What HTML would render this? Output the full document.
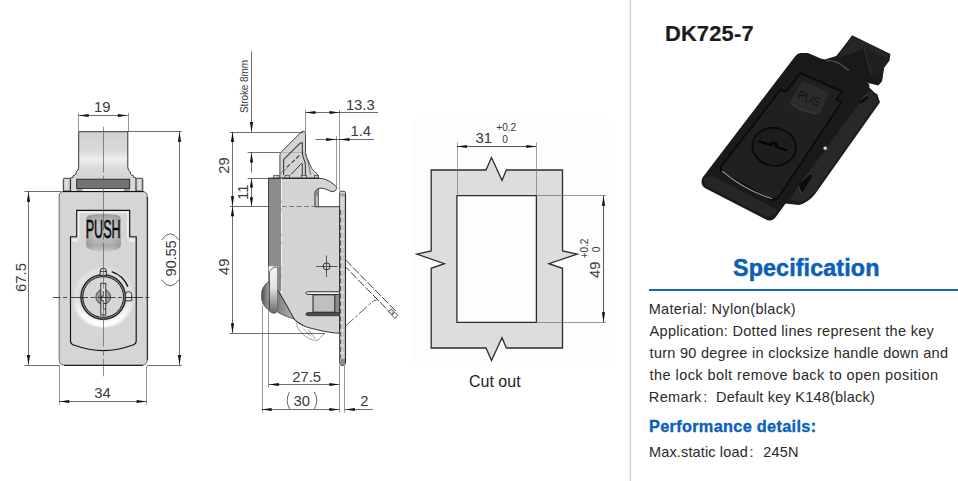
<!DOCTYPE html>
<html><head><meta charset="utf-8"><title>DK725-7</title>
<style>
html,body{margin:0;padding:0;background:#fff;}
body{width:958px;height:481px;position:relative;overflow:hidden;font-family:"Liberation Sans",sans-serif;}
svg{position:absolute;left:0;top:0;}
svg text{font-family:"Liberation Sans",sans-serif;}
.t{position:absolute;white-space:pre;line-height:1;}
.rule{position:absolute;left:648.5px;top:289.2px;width:310px;height:2px;background:#1567ba;}
</style></head><body>
<svg width="958" height="481" viewBox="0 0 958 481">
<defs>
<linearGradient id="gTab" x1="0" y1="0" x2="0" y2="1">
 <stop offset="0" stop-color="#d1d1d1"/><stop offset="0.3" stop-color="#d8d8d8"/><stop offset="0.47" stop-color="#eeeeee"/><stop offset="0.62" stop-color="#dadada"/><stop offset="1" stop-color="#cecece"/>
</linearGradient>
<linearGradient id="gPush" x1="0" y1="0" x2="0" y2="1">
 <stop offset="0" stop-color="#9c9c9c"/><stop offset="0.12" stop-color="#b0b0b0"/><stop offset="0.3" stop-color="#c3c3c3"/><stop offset="0.6" stop-color="#c2c2c2"/><stop offset="0.85" stop-color="#ababab"/><stop offset="1" stop-color="#c8c8c8"/>
</linearGradient>
<radialGradient id="gBezel" cx="0.5" cy="0.5" r="0.5">
 <stop offset="0.7" stop-color="#d6d6d6"/><stop offset="0.88" stop-color="#e3e3e3"/><stop offset="1" stop-color="#d8d8d8"/>
</radialGradient>
<linearGradient id="gPin" x1="0" y1="0" x2="1" y2="0">
 <stop offset="0" stop-color="#bdbdbd"/><stop offset="0.5" stop-color="#e4e4e4"/><stop offset="1" stop-color="#a9a9a9"/>
</linearGradient>
<linearGradient id="gFlange" x1="0" y1="0" x2="0" y2="1">
 <stop offset="0" stop-color="#f3f3f3"/><stop offset="0.45" stop-color="#e2e2e2"/><stop offset="0.72" stop-color="#a8a8a8"/><stop offset="1" stop-color="#666666"/>
</linearGradient>
<linearGradient id="gDome" x1="0" y1="0" x2="1" y2="0">
 <stop offset="0" stop-color="#505050"/><stop offset="1" stop-color="#a4a4a4"/>
</linearGradient>
<linearGradient id="gCone" x1="0" y1="0" x2="1" y2="0"><stop offset="0" stop-color="#7e7e7e"/><stop offset="1" stop-color="#b4b4b4"/></linearGradient>
<linearGradient id="gPushH" x1="0" y1="0" x2="1" y2="0"><stop offset="0" stop-color="#000" stop-opacity="0.12"/><stop offset="0.25" stop-color="#000" stop-opacity="0"/><stop offset="0.75" stop-color="#000" stop-opacity="0"/><stop offset="1" stop-color="#000" stop-opacity="0.12"/></linearGradient>
<linearGradient id="gPlate" x1="0" y1="0" x2="1" y2="0">
 <stop offset="0" stop-color="#8a8a8a"/><stop offset="0.5" stop-color="#b5b5b5"/><stop offset="1" stop-color="#6a6a6a"/>
</linearGradient>
<linearGradient id="gCres" gradientUnits="userSpaceOnUse" x1="0" y1="300" x2="0" y2="326"><stop offset="0" stop-color="#ffffff" stop-opacity="0"/><stop offset="0.55" stop-color="#ffffff" stop-opacity="0.75"/><stop offset="1" stop-color="#ffffff" stop-opacity="1"/></linearGradient>
<filter id="blur1" x="-20%" y="-20%" width="140%" height="140%"><feGaussianBlur stdDeviation="1.2"/></filter>
</defs>
<path d="M78.7,131.7 H127.8 V167.5 Q128,170.5 130.2,171.6 L130.6,174 Q131.6,175.6 133.4,175.6 L133.8,177.4 L135.8,177.8 V191 H70.8 V177.8 L72.8,177.4 L73.2,175.6 Q75,175.6 76,174 L76.4,171.6 Q78.5,170.5 78.7,167.5 Z" fill="url(#gTab)" stroke="#222" stroke-width="0.9"/>
<rect x="63.3" y="178.3" width="7.2" height="12.8" rx="1.2" fill="url(#gPin)" stroke="#222" stroke-width="0.9"/>
<rect x="136" y="178.3" width="6.8" height="12.8" rx="1.2" fill="url(#gPin)" stroke="#222" stroke-width="0.9"/>
<rect x="71.3" y="178.2" width="5.2" height="13" fill="#dadada"/>
<rect x="130" y="178.2" width="5.3" height="13" fill="#dadada"/>
<rect x="76.7" y="179.2" width="53" height="9.3" fill="#747474" stroke="#222" stroke-width="0.9"/>
<rect x="82" y="188.9" width="42" height="2.2" fill="#f0f0f0"/>
<rect x="76.9" y="188.9" width="5.5" height="2.2" fill="#9a9a9a"/>
<rect x="124" y="188.9" width="5.5" height="2.2" fill="#9a9a9a"/>
<path d="M63.5,191.7 H143 Q147.2,191.7 147.2,196 V360 Q147.2,365 142,365 H64.5 Q59.2,365 59.2,360 V196 Q59.2,191.7 63.5,191.7 Z" fill="#d5d5d5" stroke="#5a5a5a" stroke-width="0.9"/>
<line x1="62.5" y1="191.5" x2="144.0" y2="191.5" stroke="#111" stroke-width="1.1" />
<line x1="147.5" y1="197.0" x2="147.5" y2="360.0" stroke="#333" stroke-width="1.2" />
<line x1="64.0" y1="365.5" x2="143.0" y2="365.5" stroke="#222" stroke-width="1.0" />
<path d="M76.7,236.7 V210.3 H129.7 V236.7 H136.2 V340.5 Q136.2,344.5 132,345.3 Q103.3,356 74.5,345.3 Q70.5,344.5 70.5,340.5 V236.7 Z" fill="#d5d5d5" stroke="#111" stroke-width="1.15" stroke-linejoin="miter"/>
<path d="M78.6,238.5 V212.2 H127.8 V238.5" fill="none" stroke="#f0f0f0" stroke-width="1.6"/>
<path d="M72,240.2 H77.6 M128.8,240.2 H134.8" stroke="#f0f0f0" stroke-width="2.6" fill="none"/>
<path d="M86,220.5 Q86,215.4 91,215 Q103.5,213.2 116,215 Q121,215.4 121,220.5 V244 Q121,249 115,250.2 Q103.5,252.6 92,250.2 Q86,249 86,244 Z" fill="url(#gPush)"/>
<path d="M86,220.5 Q86,215.4 91,215 Q103.5,213.2 116,215 Q121,215.4 121,220.5 V244 Q121,249 115,250.2 Q103.5,252.6 92,250.2 Q86,249 86,244 Z" fill="url(#gPushH)"/>
<text x="103.2" y="237.6" font-size="25" font-weight="normal" text-anchor="middle" fill="#0a0a0a" stroke="#0a0a0a" stroke-width="0.5" textLength="35" lengthAdjust="spacingAndGlyphs">PUSH</text>
<circle cx="103.2" cy="297" r="30.6" fill="url(#gBezel)"/>
<path d="M73.46,302.24 A30.2,30.2 0 0 0 132.94,302.24 L126.34,301.08 A23.5,23.5 0 0 1 80.06,301.08 Z" fill="url(#gCres)" filter="url(#blur1)"/>
<circle cx="103.2" cy="297" r="22.3" fill="#9a9a9a" stroke="#1a1a1a" stroke-width="1.25"/>
<circle cx="103.2" cy="297" r="20.4" fill="#d6d6d6" stroke="#1a1a1a" stroke-width="1.0"/>
<circle cx="103.2" cy="297" r="7.4" fill="#9c9c9c" stroke="#333" stroke-width="0.8"/>
<rect x="100.8" y="283.3" width="5" height="31.7" fill="#dedede" stroke="#222" stroke-width="0.9"/>
<path d="M103.3,291 V296 H101.6 V300.5 H103.3 V303.5 H105.8 M103.3,303.5 V309 H105.8" fill="none" stroke="#222" stroke-width="0.8"/>
<path d="M100.2,275.4 V271 Q100.2,268.2 103.3,268.2 Q106.4,268.2 106.4,271 V275.4 Z" fill="#d8d8d8" stroke="#222" stroke-width="0.9"/>
<line x1="100.2" y1="271.5" x2="106.4" y2="271.5" stroke="#222" stroke-width="0.8" />
<path d="M125.6,300.8 V294.4 Q125.6,291.6 128.6,291.6 Q131.7,291.6 131.7,294.4 V300.8 Z" fill="#e2e2e2" stroke="#222" stroke-width="0.9"/>
<line x1="125.6" y1="297.5" x2="131.7" y2="297.5" stroke="#222" stroke-width="0.8" />
<path d="M111.7,271.6 A26.7,26.7 0 0 1 127.9,286.6" fill="none" stroke="#111" stroke-width="1.5"/>
<line x1="103.5" y1="126.7" x2="103.5" y2="376.3" stroke="#5e5e5e" stroke-width="0.7" stroke-dasharray="46 3 6 3"/>
<line x1="53.0" y1="297.5" x2="152.0" y2="297.5" stroke="#222" stroke-width="0.8" stroke-dasharray="18 2.5 4 3" stroke-dashoffset="10.5"/>
<line x1="78.5" y1="113.0" x2="78.5" y2="131.7" stroke="#6c6c6c" stroke-width="0.7" />
<line x1="128.5" y1="113.0" x2="128.5" y2="131.7" stroke="#6c6c6c" stroke-width="0.7" />
<line x1="78.7" y1="115.5" x2="127.8" y2="115.5" stroke="#2a2a2a" stroke-width="0.68" />
<polygon points="78.7,115.5 88.7,113.9 88.7,117.1" fill="#111"/>
<polygon points="127.8,115.5 117.8,113.9 117.8,117.1" fill="#111"/>
<text x="102.2" y="112.2" font-size="14.8" text-anchor="middle" fill="#3a3a3a" >19</text>
<line x1="24.5" y1="191.5" x2="61.0" y2="191.5" stroke="#2a2a2a" stroke-width="0.68" />
<line x1="24.5" y1="365.5" x2="60.0" y2="365.5" stroke="#2a2a2a" stroke-width="0.68" />
<line x1="28.5" y1="191.7" x2="28.5" y2="365.0" stroke="#2a2a2a" stroke-width="0.68" />
<polygon points="28.5,191.7 26.9,201.7 30.1,201.7" fill="#111"/>
<polygon points="28.5,365.0 26.9,355.0 30.1,355.0" fill="#111"/>
<text x="26.2" y="277.5" font-size="14.8" text-anchor="middle" fill="#3a3a3a" transform="rotate(-90 26.2 277.5)" >67.5</text>
<line x1="127.8" y1="131.5" x2="182.0" y2="131.5" stroke="#2a2a2a" stroke-width="0.68" />
<line x1="147.0" y1="365.5" x2="182.0" y2="365.5" stroke="#2a2a2a" stroke-width="0.68" />
<line x1="179.5" y1="131.7" x2="179.5" y2="365.0" stroke="#2a2a2a" stroke-width="0.68" />
<polygon points="179.5,131.7 177.9,141.7 181.1,141.7" fill="#111"/>
<polygon points="179.5,365.0 177.9,355.0 181.1,355.0" fill="#111"/>
<text x="175.6" y="258.4" font-size="14.8" text-anchor="middle" fill="#3a3a3a" transform="rotate(-90 175.6 258.4)" textLength="36.4" lengthAdjust="spacing">90.55</text>
<path d="M161.5,239.9 Q170.2,227.6 179,239.9 M161.5,279.7 Q170.2,292 179,279.7" fill="none" stroke="#4a4a4a" stroke-width="0.85"/>
<line x1="59.5" y1="366.0" x2="59.5" y2="405.0" stroke="#6c6c6c" stroke-width="0.7" />
<line x1="146.5" y1="366.0" x2="146.5" y2="405.0" stroke="#6c6c6c" stroke-width="0.7" />
<line x1="59.2" y1="401.5" x2="146.7" y2="401.5" stroke="#2a2a2a" stroke-width="0.68" />
<polygon points="59.2,401.5 69.2,399.9 69.2,403.1" fill="#111"/>
<polygon points="146.7,401.5 136.7,399.9 136.7,403.1" fill="#111"/>
<text x="102.6" y="398.2" font-size="14.8" text-anchor="middle" fill="#3a3a3a" >34</text>
<path d="M279.9,178.3 V155.2 Q279.9,153.4 281.4,151.9 L300.6,132.6 Q303,130.4 304.8,131.6 Q305.5,132.2 305.5,133.6 V152.8 Q306,157 307.9,159.7 Q309.5,164 311.7,168.4 Q314,171.5 317.3,174 Q318.6,175.4 318.6,178.3 Z" fill="#d3d3d3" stroke="#3a3a3a" stroke-width="0.9"/>
<line x1="280.5" y1="152.5" x2="305.0" y2="152.5" stroke="#9a9a9a" stroke-width="0.6" />
<path d="M283.6,175 V160.6 Q283.6,159.4 284.6,158.5 L299.4,143.9 Q300.8,142.7 302.3,142.8 V152.8 Q302.6,156 303.5,158 Q305.4,162 305.4,166 V175.6" fill="none" stroke="#363636" stroke-width="1.05"/>
<path d="M305.6,153.5 Q306.4,158 308.2,163 Q309.8,169 310.6,175" fill="none" stroke="#5a5a5a" stroke-width="0.8"/>
<path d="M286.7,167.4 L299.8,155.1" fill="none" stroke="#363636" stroke-width="1.05" stroke-dasharray="4.5 2"/>
<path d="M291.1,174.4 L300.8,164.2 Q301.6,163.4 302.3,163.6 V175" fill="none" stroke="#363636" stroke-width="1.0"/>
<path d="M280,174 L284.2,169.7 M283.8,171.6 L287,168.2" fill="none" stroke="#6a6a6a" stroke-width="0.7"/>
<rect x="273.7" y="175.3" width="5.4" height="3" fill="#d0d0d0" stroke="#3a3a3a" stroke-width="0.7"/>
<rect x="285.0" y="175.3" width="4.6" height="3" fill="#d0d0d0" stroke="#3a3a3a" stroke-width="0.7"/>
<rect x="301.3" y="175.3" width="5.2" height="3" fill="#d0d0d0" stroke="#3a3a3a" stroke-width="0.7"/>
<rect x="314.6" y="175.3" width="3.6" height="3" fill="#d0d0d0" stroke="#3a3a3a" stroke-width="0.7"/>
<path d="M268.6,178.3 H319.1 C322,178.3 325,179.2 326.8,180 C329.5,181.2 331.5,182.6 333,183.8 C334.6,185 335.8,186 336.3,186.6 C337,187.6 336.9,188.2 336.5,188.8 C336,189.8 335.4,190.5 334.9,190.9 C334.2,191.5 333.6,191.8 333,191.7 C331.4,191.5 330,191 328.7,190.5 C326.5,189.5 324.8,188.5 322.9,188.3 C321.6,188.1 320.3,188.1 319.1,188.3 C318,188.6 317,189.2 316.3,190 C315.5,191 315.1,191.9 315.1,192.9 V206.7 H339.6 V333.2 C333,333.1 325,331.6 317.4,329.8 C311,328.3 306.5,327.2 303.4,325.6 C299.5,323.6 296.6,322 294,319 C291,314.5 288,308 278.3,290.6 L268.6,292 Z" fill="#d4d4d4" stroke="#333" stroke-width="1.0"/>
<path d="M315.1,206.7 V192.9 Q315.2,190.8 318.4,189.2 V206.7 Z" fill="#c2c2c2" stroke="#3c3c3c" stroke-width="0.8"/>
<rect x="315.6" y="191.6" width="2.4" height="4.2" fill="#8a8a8a"/>
<line x1="281.5" y1="206.5" x2="315.2" y2="206.5" stroke="#555" stroke-width="0.7" stroke-dasharray="5 2.5"/>
<rect x="268.6" y="178.3" width="12.6" height="88" fill="#8b8b8b"/>
<line x1="268.5" y1="178.3" x2="268.5" y2="266.3" stroke="#444" stroke-width="0.9" />
<line x1="268.6" y1="178.2" x2="319.1" y2="178.2" stroke="#222" stroke-width="1.15" />
<line x1="281.5" y1="178.3" x2="281.5" y2="292.0" stroke="#fafafa" stroke-width="0.9" stroke-dasharray="22 3 5 3"/>
<rect x="277.6" y="266.3" width="3.6" height="24.6" fill="#858585"/>
<path d="M268.6,266.3 H278.3 V292 H268.6 Z" fill="#fbfbfb"/>
<path d="M269.4,271.5 L273.6,267.1 H277.8 V309 Q277.8,313.1 273.8,313.1 Q269.4,313.1 269.4,309 Z" fill="url(#gFlange)" stroke="#3a3a3a" stroke-width="0.8"/>
<path d="M269.4,281.3 Q261.2,286 261.5,295.6 Q261.2,305.6 269.4,310.3 Z" fill="url(#gDome)" stroke="#3a3a3a" stroke-width="0.7"/>
<path d="M277.8,290.6 Q288,307 294,319 Q285,316.4 277.8,312.4 Z" fill="url(#gCone)"/>
<path d="M277.8,312.4 Q285,316.4 294,319" fill="none" stroke="#444" stroke-width="0.7"/>
<path d="M277.8,290.4 Q288,307 294,319 Q296.6,322 303.4,325.6" fill="none" stroke="#2e2e2e" stroke-width="1.0"/>
<rect x="334.8" y="294.4" width="4.8" height="18.4" fill="#8c8c8c"/>
<path d="M339.5,291.7 H308.2 Q305.8,291.9 305.8,293.1 Q305.8,294.3 308.2,294.5 H339.5" fill="#ececec" stroke="#3c3c3c" stroke-width="1"/>
<rect x="313.1" y="294.8" width="21.7" height="17.4" fill="#bfbfbf" stroke="#2e2e2e" stroke-width="1.1"/>
<line x1="313.1" y1="295.4" x2="313.1" y2="311.6" stroke="#6e6e6e" stroke-width="1.1" />
<path d="M339.5,312.5 H308.2 Q305.8,312.9 305.8,314.1 Q305.8,315.4 308.2,315.7 H339.5 Z" fill="#4c4c4c" stroke="#2e2e2e" stroke-width="0.8"/>
<circle cx="326.6" cy="266.3" r="3.5" fill="#d4d4d4" stroke="#222" stroke-width="0.9"/>
<line x1="316.0" y1="266.5" x2="337.5" y2="266.5" stroke="#222" stroke-width="0.7" />
<line x1="326.5" y1="255.5" x2="326.5" y2="277.0" stroke="#222" stroke-width="0.7" />
<path d="M339.6,192.4 Q339.6,191.3 340.8,191.3 H344.2 Q345.4,191.3 345.4,192.4 V363.6 Q345.4,365.6 342.5,365.6 Q339.6,365.6 339.6,363.6 Z" fill="#d6d6d6" stroke="#4a4a4a" stroke-width="1.0"/>
<rect x="340.2" y="193.4" width="4.6" height="2.8" fill="#a2a2a2"/>
<rect x="340.2" y="358.5" width="4.8" height="6.5" fill="#8d8d8d"/>
<line x1="340.7" y1="210.0" x2="340.7" y2="358.0" stroke="#4a4a4a" stroke-width="1.0" stroke-dasharray="5 2.6"/>
<line x1="343.8" y1="210.0" x2="343.8" y2="356.0" stroke="#9a9a9a" stroke-width="0.6" stroke-dasharray="5 2.6"/>
<line x1="345.5" y1="194.0" x2="345.5" y2="363.0" stroke="#2e2e2e" stroke-width="1.1" />
<line x1="339.5" y1="206.0" x2="339.5" y2="333.0" stroke="#333" stroke-width="0.9" />
<path d="M295.9,322.3 Q297.5,330 302.5,334 Q308,339 314.6,340.5 L317.9,340.1 L324.6,333.6 M303.4,328.5 L310.8,336.3 M308,329.3 L315.5,339" fill="none" stroke="#7a7a7a" stroke-width="0.7"/>
<path d="M345.6,259.9 L397.3,312.6" stroke="#262626" stroke-width="0.9" stroke-dasharray="8.5 2" fill="none"/>
<path d="M345.6,267 L392.4,314.8" stroke="#262626" stroke-width="0.9" stroke-dasharray="8.5 2" stroke-dashoffset="3" fill="none"/>
<rect x="-1.9" y="-1.9" width="3.8" height="3.8" transform="translate(391.3,311.7) rotate(45.5)" fill="#e6e6e6" stroke="#333" stroke-width="0.8"/>
<rect x="-2.1" y="-2.1" width="4.2" height="4.2" transform="translate(394.9,315.4) rotate(45.5)" fill="#ffffff" stroke="#333" stroke-width="0.8"/>
<path d="M345.6,326 L371.6,302.4 Q373.2,300.8 376.6,300" fill="none" stroke="#3a3a3a" stroke-width="0.8" stroke-dasharray="11 2 3 2"/>
<line x1="251.5" y1="51.5" x2="251.5" y2="131.9" stroke="#2a2a2a" stroke-width="0.68" />
<polygon points="251.5,131.9 249.9,121.9 253.1,121.9" fill="#111"/>
<text x="247.6" y="86.5" font-size="10" text-anchor="middle" fill="#3a3a3a" transform="rotate(-90 247.6 86.5)" textLength="53" lengthAdjust="spacing">Stroke 8mm</text>
<line x1="229.8" y1="132.5" x2="303.0" y2="132.5" stroke="#2a2a2a" stroke-width="0.68" />
<line x1="247.6" y1="152.5" x2="280.5" y2="152.5" stroke="#2a2a2a" stroke-width="0.68" />
<line x1="247.6" y1="178.5" x2="268.6" y2="178.5" stroke="#2a2a2a" stroke-width="0.68" />
<line x1="229.8" y1="206.5" x2="268.6" y2="206.5" stroke="#2a2a2a" stroke-width="0.68" />
<line x1="251.5" y1="152.4" x2="251.5" y2="172.4" stroke="#2a2a2a" stroke-width="0.68" />
<line x1="251.5" y1="178.5" x2="251.5" y2="206.3" stroke="#2a2a2a" stroke-width="0.68" />
<polygon points="251.5,152.4 249.9,162.4 253.1,162.4" fill="#111"/>
<polygon points="251.5,178.5 249.9,187.5 253.1,187.5" fill="#111"/>
<polygon points="251.5,206.3 249.9,197.3 253.1,197.3" fill="#111"/>
<line x1="232.5" y1="131.9" x2="232.5" y2="333.2" stroke="#2a2a2a" stroke-width="0.68" />
<polygon points="232.5,131.9 230.9,141.9 234.1,141.9" fill="#111"/>
<polygon points="232.5,206.3 230.9,196.3 234.1,196.3" fill="#111"/>
<polygon points="232.5,206.3 230.9,216.3 234.1,216.3" fill="#111"/>
<polygon points="232.5,333.2 230.9,323.2 234.1,323.2" fill="#111"/>
<text x="228.8" y="165.5" font-size="14.8" text-anchor="middle" fill="#3a3a3a" transform="rotate(-90 228.8 165.5)" >29</text>
<text x="248.5" y="192.3" font-size="14.8" text-anchor="middle" fill="#3a3a3a" transform="rotate(-90 248.5 192.3)" >11</text>
<text x="228.8" y="266.8" font-size="14.8" text-anchor="middle" fill="#3a3a3a" transform="rotate(-90 228.8 266.8)" >49</text>
<line x1="229.8" y1="333.5" x2="325.0" y2="333.5" stroke="#2a2a2a" stroke-width="0.68" />
<line x1="305.5" y1="110.0" x2="305.5" y2="133.0" stroke="#6c6c6c" stroke-width="0.7" />
<line x1="339.5" y1="110.0" x2="339.5" y2="191.0" stroke="#6c6c6c" stroke-width="0.7" />
<line x1="305.4" y1="112.5" x2="378.0" y2="112.5" stroke="#2a2a2a" stroke-width="0.68" />
<polygon points="305.4,112.5 315.4,110.9 315.4,114.1" fill="#111"/>
<polygon points="339.5,112.5 329.5,110.9 329.5,114.1" fill="#111"/>
<text x="360.3" y="109.6" font-size="14.8" text-anchor="middle" fill="#3a3a3a" >13.3</text>
<line x1="336.5" y1="136.0" x2="336.5" y2="187.0" stroke="#6c6c6c" stroke-width="0.7" />
<line x1="315.4" y1="139.5" x2="374.0" y2="139.5" stroke="#2a2a2a" stroke-width="0.68" />
<polygon points="336.2,139.5 326.2,137.9 326.2,141.1" fill="#111"/>
<polygon points="339.5,139.5 349.5,137.9 349.5,141.1" fill="#111"/>
<text x="360.8" y="136.4" font-size="14.8" text-anchor="middle" fill="#3a3a3a" >1.4</text>
<line x1="262.5" y1="305.6" x2="262.5" y2="412.5" stroke="#6c6c6c" stroke-width="0.7" />
<line x1="268.5" y1="300.0" x2="268.5" y2="388.0" stroke="#6c6c6c" stroke-width="0.7" />
<line x1="339.5" y1="366.0" x2="339.5" y2="412.5" stroke="#6c6c6c" stroke-width="0.7" />
<line x1="344.5" y1="366.0" x2="344.5" y2="412.5" stroke="#6c6c6c" stroke-width="0.7" />
<line x1="268.9" y1="384.5" x2="339.3" y2="384.5" stroke="#2a2a2a" stroke-width="0.68" />
<polygon points="268.9,384.5 278.9,382.9 278.9,386.1" fill="#111"/>
<polygon points="339.3,384.5 329.3,382.9 329.3,386.1" fill="#111"/>
<text x="306.7" y="381.8" font-size="14.8" text-anchor="middle" fill="#3a3a3a" >27.5</text>
<line x1="261.7" y1="409.5" x2="339.3" y2="409.5" stroke="#2a2a2a" stroke-width="0.68" />
<polygon points="261.7,409.5 271.7,407.9 271.7,411.1" fill="#111"/>
<polygon points="339.3,409.5 329.3,407.9 329.3,411.1" fill="#111"/>
<text x="301.7" y="406.3" font-size="14.8" text-anchor="middle" fill="#3a3a3a" >30</text>
<path d="M289.6,408.9 Q284.8,400.3 289.6,391.8 M314.3,391.8 Q319.2,400.3 314.3,408.9" fill="none" stroke="#4a4a4a" stroke-width="0.85"/>
<line x1="344.9" y1="409.5" x2="372.8" y2="409.5" stroke="#2a2a2a" stroke-width="0.68" />
<polygon points="344.9,409.5 354.9,407.9 354.9,411.1" fill="#111"/>
<text x="364.4" y="406.2" font-size="14.8" text-anchor="middle" fill="#3a3a3a" >2</text>
<rect x="411" y="119" width="203" height="243" fill="#fdfdfd"/>
<path d="M431.2,170 H486 L491.5,157.5 L502,180.3 L506.4,170 H562.5 V251 L577.2,254.1 L548.9,263.7 L562.5,268.3 V348 H506.4 L502,337.7 L491.5,360.5 L486,348 H431.2 V268.3 L444.4,263.7 L416.8,254.1 L431.2,251 Z M456.9,195.7 V322.3 H536.4 V195.7 Z" fill="#dcdddf" fill-rule="evenodd" stroke="#2c2c2c" stroke-width="1.3" stroke-linejoin="miter"/>
<line x1="457.5" y1="142.5" x2="457.5" y2="195.7" stroke="#777" stroke-width="0.7" />
<line x1="536.5" y1="142.5" x2="536.5" y2="195.7" stroke="#777" stroke-width="0.7" />
<line x1="456.9" y1="146.5" x2="536.4" y2="146.5" stroke="#2a2a2a" stroke-width="0.8" />
<polygon points="456.9,146.5 466.9,144.9 466.9,148.1" fill="#111"/>
<polygon points="536.4,146.5 526.4,144.9 526.4,148.1" fill="#111"/>
<text x="483.8" y="143.0" font-size="14.8" text-anchor="middle" fill="#3a3a3a" >31</text>
<text x="506.2" y="130.8" font-size="10.2" text-anchor="middle" fill="#3a3a3a" textLength="19.8" lengthAdjust="spacing">+0.2</text>
<text x="505.0" y="142.8" font-size="10.2" text-anchor="middle" fill="#3a3a3a" >0</text>
<line x1="536.4" y1="195.5" x2="606.0" y2="195.5" stroke="#6a6a6a" stroke-width="0.7" />
<line x1="536.4" y1="322.5" x2="606.0" y2="322.5" stroke="#6a6a6a" stroke-width="0.7" />
<line x1="603.5" y1="195.7" x2="603.5" y2="322.3" stroke="#2a2a2a" stroke-width="0.8" />
<polygon points="603.5,195.7 601.9,205.7 605.1,205.7" fill="#111"/>
<polygon points="603.5,322.3 601.9,312.3 605.1,312.3" fill="#111"/>
<text x="600.0" y="269.7" font-size="14.8" text-anchor="middle" fill="#3a3a3a" transform="rotate(-90 600.0 269.7)" >49</text>
<text x="588.4" y="248.4" font-size="10.2" text-anchor="middle" fill="#3a3a3a" transform="rotate(-90 588.4 248.4)" textLength="19.8" lengthAdjust="spacing">+0.2</text>
<text x="600.2" y="249.3" font-size="10.2" text-anchor="middle" fill="#3a3a3a" transform="rotate(-90 600.2 249.3)" >0</text>
<text x="494.8" y="387.3" font-size="16" text-anchor="middle" fill="#222" >Cut out</text>
<line x1="630.3" y1="0.0" x2="630.3" y2="481.0" stroke="#d2d2d2" stroke-width="1.5" />
<g>
<!-- tab -->
<path d="M825,59.6 L836.2,55.9 Q843,48 852.1,35.3 L890.4,54 L889.5,60.6 L883.9,68 L882,81.2 L878.3,85.5 L868,83 Z" fill="#19191b"/>
<path d="M852.3,36.2 L889.6,54.4 L888.6,59.5 L864,47.5 Q850,56 838,57 Q846,46 852.3,36.2 Z" fill="#252527"/>
<path d="M864,47.5 L888.6,59.5 L883.9,68 L882,80.5 L872,75 Q866,62 864,47.5 Z" fill="#1f1f21"/>
<path d="M864.5,48 Q866.5,62 872,75" fill="none" stroke="#303032" stroke-width="1.2"/>
<!-- body side -->
<path d="M862,80 L874.6,92.7 L877.3,94.3 L880,102.2 L815.1,194 Q808,203 798.9,204.9 L785.4,203.5 L780,209 L770,200 Z" fill="#1c1c1e"/>
<path d="M869,90 L878.5,100.5 L815,191 Q808.5,199.5 800,201.5 L790,200 L796,190 Z" fill="#28282a"/>
<path d="M858.4,100.8 L866.5,95.4 L868.8,98 L860.6,104.2 Z" fill="#0d0d0e"/>
<path d="M858.4,100.8 L866.5,95.4" stroke="#454547" stroke-width="1" fill="none"/>
<path d="M797.6,184.6 L809.7,173.8 L812.4,176.5 L801.6,194 Z" fill="#0c0c0d"/>
<path d="M801.6,194 L797.6,184.6 L809.7,173.8" stroke="#48484a" stroke-width="1" fill="none"/>
<!-- front plate -->
<path d="M795.2,56.2 Q797.4,53.2 801,53.1 L808,53 L821.2,58.7 L825,59.6 L836.2,57 L868,83 Q870.5,85.5 868.6,88.6 L776.2,216.5 Q773,221.3 767.6,220.3 L705.3,188.3 Q699.5,184.5 702.6,177.6 Z" fill="#1a1a1c"/>
<path d="M703.4,178.6 L706,186 L767.8,217.6 L775,214.5 L778,210 L712,176 Z" fill="#262628"/>
<path d="M827,60.5 Q836,60 843.5,66.5 L848.5,70" fill="none" stroke="#48484a" stroke-width="1.6" stroke-linecap="round"/>
<!-- recessed outline -->
<path d="M800.6,73 L842,91.5 L836.5,99.5 L841.5,102 L779,196.5 Q775.5,200.5 770.5,199.4 L724,173.6 Q719,170 721.5,166 L781,89.2 L785.6,91.8 Z" fill="#202022" stroke="#0c0c0d" stroke-width="2" stroke-linejoin="round"/>
<path d="M722.5,171.5 Q745,190 771.5,198.6" fill="none" stroke="#8d8d8f" stroke-width="1.1" stroke-linecap="round"/>
<!-- push button -->
<path d="M801,83.5 Q803,81 806.5,82.5 L826,91 Q829,92.5 827.6,96 L820.5,111.5 Q818.5,115.5 813.5,114.6 Q801,112.4 791.5,105.6 Q789,103.6 790.6,100.6 Z" fill="#2b2b2d"/>
<path d="M792.5,104 Q803,111.5 816,113.6" fill="none" stroke="#39393b" stroke-width="1.4"/>
<text x="809" y="102.5" font-size="12.5" fill="#131314" text-anchor="middle" transform="rotate(22 809 98)" textLength="23" lengthAdjust="spacingAndGlyphs">PUS</text>
<!-- lock -->
<ellipse cx="774.2" cy="146.8" rx="21.8" ry="19" transform="rotate(10 774.2 146.8)" fill="#1d1d1f" stroke="#09090a" stroke-width="1.7"/>
<path d="M758.6,141.2 L771.5,145 L772.6,142.6 L776.6,144 L775.6,146.6 L787,150.4" fill="none" stroke="#050506" stroke-width="2.4" stroke-linejoin="round"/>
<circle cx="825.2" cy="148.2" r="1.9" fill="#a9a9a9"/><circle cx="825.2" cy="148.2" r="1.1" fill="#dedede"/>
</g>
</svg>
<div class="rule"></div>
<div class="t" style="left:664.90px;top:22.95px;font-size:21.8px;font-weight:bold;-webkit-text-stroke:0.2px #1b1b1b;color:#1b1b1b;letter-spacing:0.250px">DK725-7</div>
<div class="t" style="left:733.00px;top:256.98px;font-size:23.3px;font-weight:bold;-webkit-text-stroke:0.5px #0a61b8;color:#0a61b8;letter-spacing:0.117px">Specification</div>
<div class="t" style="left:648.70px;top:302.03px;font-size:14.5px;color:#2a2a2a;letter-spacing:0.324px">Material: Nylon(black)</div>
<div class="t" style="left:649.60px;top:324.13px;font-size:14.5px;color:#2a2a2a;letter-spacing:0.300px">Application: Dotted lines represent the key</div>
<div class="t" style="left:649.60px;top:346.23px;font-size:14.5px;color:#2a2a2a;letter-spacing:0.271px">turn 90 degree in clocksize handle down and</div>
<div class="t" style="left:649.60px;top:368.33px;font-size:14.5px;color:#2a2a2a;letter-spacing:0.429px">the lock bolt remove back to open position</div>
<div class="t" style="left:648.80px;top:390.23px;font-size:14.5px;color:#2a2a2a;letter-spacing:0.360px">Remark</div>
<div class="t" style="left:703.20px;top:390.23px;font-size:14.5px;color:#2a2a2a;letter-spacing:0.000px">:</div>
<div class="t" style="left:716.10px;top:390.23px;font-size:14.5px;color:#2a2a2a;letter-spacing:0.218px">Default key K148(black)</div>
<div class="t" style="left:649.00px;top:417.90px;font-size:16.3px;font-weight:bold;-webkit-text-stroke:0.35px #0a61b8;color:#0a61b8;letter-spacing:0.316px">Performance details:</div>
<div class="t" style="left:649.00px;top:445.23px;font-size:14.5px;color:#2a2a2a;letter-spacing:0.143px">Max.static load</div>
<div class="t" style="left:749.60px;top:445.23px;font-size:14.5px;color:#2a2a2a;letter-spacing:0.000px">:</div>
<div class="t" style="left:763.30px;top:445.23px;font-size:14.5px;color:#2a2a2a;letter-spacing:0.133px">245N</div>
</body></html>
